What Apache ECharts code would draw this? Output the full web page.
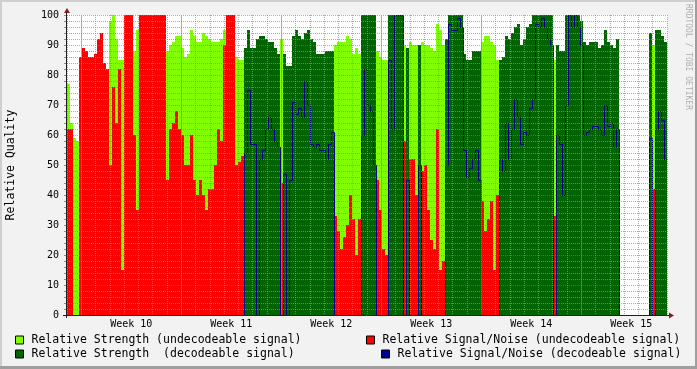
<!DOCTYPE html>
<html><head><meta charset="utf-8">
<script src="https://cdn.jsdelivr.net/npm/echarts/dist/echarts.min.js"></script>
<style>html,body{margin:0;padding:0;background:#f2f2f2;overflow:hidden}#c{width:697px;height:369px}</style>
</head><body><div id="c"></div>
<script>
const FONT = '"DejaVu Sans Mono", monospace';
const HOURS_PER_SAMPLE = 5.04;   // each consolidated sample
const SPAN_HOURS = 1008;         // 6 weeks shown
const weekLabels = ['Week 10', 'Week 11', 'Week 12', 'Week 13', 'Week 14', 'Week 15'];
const weekStarts = [24, 192, 360, 528, 696, 864];   // hours from chart start
const weekCenters = [108, 276, 444, 612, 780, 948];

const seriesNames = [
  'Relative Strength (undecodeable signal)',
  'Relative Signal/Noise (undecodeable signal)',
  'Relative Strength  (decodeable signal)',
  'Relative Signal/Noise (decodeable signal)'
];
const colors = ['#80ff00', '#ff0000', '#006400', '#00008b'];

const strengthUndec = [
  77,64,59,58,86,89,88,86,86,87,
  92,94,84,82,98,100,92,85,85,100,
  100,100,88,95,100,100,100,100,100,100,
  100,100,100,88,90,91,93,93,89,86,
  87,95,93,91,91,94,93,92,91,91,
  91,92,95,100,100,100,86,85,85,0,
  0,0,0,0,0,0,0,0,0,0,
  0,92,0,0,0,0,0,0,0,0,
  0,0,0,0,0,0,0,0,0,90,
  91,91,91,93,92,87,89,87,0,0,
  0,0,0,88,86,85,85,0,0,0,
  0,0,90,0,91,90,90,0,91,90,
  90,89,88,97,95,90,0,0,0,0,
  0,0,0,0,0,0,0,0,91,93,
  93,91,90,85,0,0,0,0,0,0,
  0,0,0,0,0,0,0,0,0,0,
  0,0,85,0,0,0,0,0,0,0,
  0,0,0,0,0,0,0,0,0,0,
  0,0,0,0,0,0,0,0,0,0,
  0,0,0,0,0,90,0,0,0,0
];
const snrUndec = [
  62,62,0,0,86,89,88,86,86,87,
  92,94,84,82,50,76,64,82,15,100,
  100,100,60,35,100,100,100,100,100,100,
  100,100,100,45,62,64,68,62,60,50,
  50,60,45,40,45,40,35,42,42,50,
  62,58,90,100,100,100,50,51,53,0,
  0,0,0,0,0,0,0,0,0,0,
  0,44,0,0,0,0,0,0,0,0,
  0,0,0,0,0,0,0,0,0,33,
  28,22,26,30,40,32,20,32,0,0,
  0,0,0,45,35,22,20,0,0,0,
  0,0,58,0,52,52,40,0,48,50,
  35,25,22,62,15,18,0,0,0,0,
  0,0,0,0,0,0,0,0,38,28,
  32,38,15,40,0,0,0,0,0,0,
  0,0,0,0,0,0,0,0,0,0,
  0,0,33,0,0,0,0,0,0,0,
  0,0,0,0,0,0,0,0,0,0,
  0,0,0,0,0,0,0,0,0,0,
  0,0,0,0,0,42,0,0,0,0
];
const strengthDec = [
  0,0,0,0,0,0,0,0,0,0,
  0,0,0,0,0,0,0,0,0,0,
  0,0,0,0,0,0,0,0,0,0,
  0,0,0,0,0,0,0,0,0,0,
  0,0,0,0,0,0,0,0,0,0,
  0,0,0,0,0,0,0,0,0,89,
  95,89,89,92,93,93,92,91,91,89,
  87,0,87,83,83,93,95,93,92,94,
  95,92,91,87,87,87,88,88,88,0,
  0,0,0,0,0,0,0,0,100,100,
  100,100,100,0,0,0,0,100,100,100,
  100,100,0,89,0,0,0,90,0,0,
  0,0,0,0,0,0,92,100,100,100,
  100,100,87,85,85,88,88,88,0,0,
  0,0,0,0,85,86,93,92,94,96,
  97,90,92,96,97,100,100,100,100,100,
  100,100,0,90,88,88,100,100,100,100,
  100,98,91,90,91,91,91,89,90,95,
  91,90,89,92,0,0,0,0,0,0,
  0,0,0,0,94,0,95,95,93,91
];
const snrDec = [
  0,0,0,0,0,0,0,0,0,0,
  0,0,0,0,0,0,0,0,0,0,
  0,0,0,0,0,0,0,0,0,0,
  0,0,0,0,0,0,0,0,0,0,
  0,0,0,0,0,0,0,0,0,0,
  0,0,0,0,0,0,0,0,0,54,
  75,57,57,0,52,55,62,66,62,58,
  56,0,47,0,45,71,67,69,66,78,
  70,57,56,57,55,55,52,57,61,0,
  0,0,0,0,0,0,0,0,60,82,
  70,68,50,0,0,0,0,85,62,100,
  100,100,0,45,0,0,0,50,0,0,
  0,0,0,0,0,0,50,97,95,95,
  99,96,55,46,49,52,55,45,0,0,
  0,0,0,0,52,48,64,52,62,72,
  66,57,61,60,69,72,97,96,99,96,
  92,90,0,60,57,40,70,100,96,100,
  96,90,60,61,62,63,63,62,60,70,
  63,64,56,62,0,0,0,0,0,0,
  0,0,0,0,59,0,62,68,65,52
];

function toPoints(vals) {
  const pts = vals.map((v, i) => [i * HOURS_PER_SAMPLE, v]);
  pts.push([vals.length * HOURS_PER_SAMPLE, vals[vals.length - 1]]);
  return pts;
}
function areaSeries(idx, vals) {
  return {
    name: seriesNames[idx], type: 'line', data: toPoints(vals), step: 'end',
    symbol: 'none', showSymbol: false, silent: true, z: 2,
    lineStyle: { width: 0, opacity: 0 },
    itemStyle: { color: colors[idx] },
    areaStyle: { color: colors[idx], opacity: 1 }
  };
}

const GRID_C = 'rgba(143,143,143,0.75)';
const MGRID_C = 'rgba(222,79,79,0.6)';

const chart = echarts.init(document.getElementById('c'), null, { renderer: 'canvas' });
const legendBase = {
  orient: 'horizontal', itemWidth: 8, itemHeight: 8, padding: 0, selectedMode: false,
  textStyle: { fontFamily: FONT, fontSize: 11.5, color: '#000', padding: [0, 0, 0, 3] }
};
function legendItem(idx) {
  return { name: seriesNames[idx], icon: 'rect',
    itemStyle: { color: colors[idx], borderColor: '#000', borderWidth: 1, opacity: 1 } };
}
chart.setOption({
  animation: false,
  backgroundColor: '#f2f2f2',
  grid: [
    { left: 67, top: 15, width: 600, height: 300, show: true, backgroundColor: '#ffffff',
      borderWidth: 0, containLabel: false, outerBoundsMode: 'none' },
    // same plot, offset by half a pixel so the 1px signal/noise line lands on whole pixels
    { left: 67.5, top: 15.5, width: 600, height: 300, show: false,
      containLabel: false, outerBoundsMode: 'none' }
  ],
  legend: [
    Object.assign({}, legendBase, { left: 15, top: 334, data: [legendItem(0)] }),
    Object.assign({}, legendBase, { left: 15, top: 348, data: [legendItem(2)] }),
    Object.assign({}, legendBase, { left: 366, top: 334, data: [legendItem(1)] }),
    Object.assign({}, legendBase, { left: 381, top: 348, data: [legendItem(3)] })
  ],
  xAxis: [
    { type: 'value', gridIndex: 0, min: 0, max: SPAN_HOURS, interval: 24, z: 5,
      axisLine: { show: false }, axisLabel: { show: false },
      axisTick: { show: false },
      splitLine: { show: true, lineStyle: { color: GRID_C, type: [1, 1], width: 1 } } },
    { type: 'value', gridIndex: 0, min: 0, max: SPAN_HOURS, interval: 12, position: 'bottom', z: 5,
      axisLine: { show: false }, axisTick: { show: false }, splitLine: { show: false },
      axisLabel: { show: true, margin: 4, fontFamily: FONT, fontSize: 10, color: '#000',
        formatter: function (v) { const k = weekCenters.indexOf(v); return k >= 0 ? weekLabels[k] : ''; } } },
    { type: 'value', gridIndex: 1, min: 0, max: SPAN_HOURS, show: false,
      splitLine: { show: false } }
  ],
  yAxis: [
    {
      type: 'value', gridIndex: 0, min: 0, max: 100, interval: 10, z: 5,
      name: 'Relative Quality', nameLocation: 'middle', nameGap: 50, nameRotate: 90,
      nameTextStyle: { fontFamily: FONT, fontSize: 11.5, color: '#000' },
      axisLine: { show: false },
      axisTick: { show: true, length: 3, lineStyle: { color: '#8f8f8f' } },
      minorTick: { show: true, splitNumber: 5, length: 3, lineStyle: { color: '#8f8f8f' } },
      axisLabel: { margin: 8, fontFamily: FONT, fontSize: 10, color: '#000' },
      splitLine: { show: true, lineStyle: { color: MGRID_C, type: [1, 1], width: 1 } },
      minorSplitLine: { show: true, lineStyle: { color: GRID_C, type: [1, 1], width: 1 } }
    },
    { type: 'value', gridIndex: 1, min: 0, max: 100, show: false, splitLine: { show: false } }
  ],
  series: [
    areaSeries(0, strengthUndec),
    areaSeries(1, snrUndec),
    areaSeries(2, strengthDec),
    {
      name: seriesNames[3], type: 'line', xAxisIndex: 2, yAxisIndex: 1,
      data: toPoints(snrDec), step: 'end',
      symbol: 'none', showSymbol: false, silent: true, z: 3,
      lineStyle: { width: 1, color: colors[3] }, itemStyle: { color: colors[3] }
    },
    {
      name: 'weeks', type: 'line', data: [], silent: true, z: 4,
      markLine: { silent: true, symbol: 'none', label: { show: false },
        lineStyle: { color: MGRID_C, type: [1, 1], width: 1 },
        data: weekStarts.map(t => ({ xAxis: t })) }
    }
  ],
  graphic: [
    { type: 'rect', shape: { x: 0, y: 0, width: 697, height: 2 }, style: { fill: '#cfcfcf' }, silent: true },
    { type: 'rect', shape: { x: 0, y: 0, width: 2, height: 369 }, style: { fill: '#cfcfcf' }, silent: true },
    { type: 'rect', shape: { x: 0, y: 366, width: 697, height: 3 }, style: { fill: '#9e9e9e' }, silent: true },
    { type: 'rect', shape: { x: 695, y: 0, width: 2, height: 369 }, style: { fill: '#9e9e9e' }, silent: true },
    { type: 'line', shape: { x1: 66.5, y1: 11, x2: 66.5, y2: 318 }, style: { stroke: '#1f1f1f', lineWidth: 1 }, z: 10, silent: true },
    { type: 'line', shape: { x1: 63, y1: 315.5, x2: 670, y2: 315.5 }, style: { stroke: '#1f1f1f', lineWidth: 1 }, z: 10, silent: true },
    { type: 'polygon', shape: { points: [[67, 8], [64, 13], [70, 13]] }, style: { fill: '#801f1f' }, z: 10, silent: true },
    { type: 'polygon', shape: { points: [[669, 312.5], [674, 315.5], [669, 318.5]] }, style: { fill: '#801f1f' }, z: 10, silent: true },
    { type: 'text', x: 688, y: 4, rotation: -Math.PI / 2, silent: true,
      style: { text: 'RRDTOOL / TOBI OETIKER', font: '8px ' + FONT, fill: '#b0b0b0',
               textAlign: 'left', textVerticalAlign: 'middle' } }
  ]
});
</script>
</body></html>
